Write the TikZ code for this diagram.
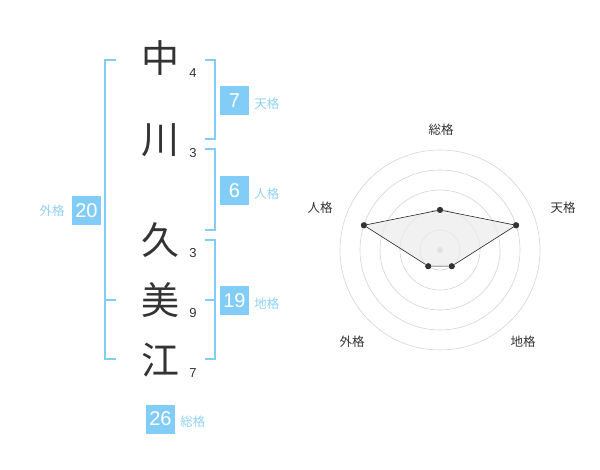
\documentclass[tikz,border=0pt]{standalone}
\usepackage{fontspec}
\setmainfont{Liberation Sans}
\newfontfamily\jpfont{Noto Sans CJK JP}
\usetikzlibrary{positioning}
\definecolor{frameblue}{HTML}{82CDF8}
\definecolor{labelblue}{HTML}{8ED2F7}
\definecolor{inkgrey}{HTML}{333333}

\tikzset{
    kanji/.style={font=\jpfont\fontsize{38}{38}\selectfont, text=inkgrey, inner sep=0pt},
    strokes/.style={font=\fontsize{13}{13}\selectfont, text=inkgrey, inner sep=0pt},
    scorebox/.style={fill=frameblue, text=white, minimum size=29pt, inner sep=0pt, font=\fontsize{20}{20}\selectfont},
    scorelabel/.style={font=\jpfont\fontsize{12.5}{12.5}\selectfont, text=labelblue, inner sep=0pt},
    bracket/.style={draw=frameblue, line width=1.5pt},
    ring/.style={draw=black!17, line width=0.6pt},
    axislabel/.style={font=\jpfont\fontsize{12.5}{12.5}\selectfont, text=inkgrey, inner sep=0pt},
    dot/.style={circle, fill=inkgrey, inner sep=0pt, minimum size=6pt},
}

\begin{document}
\begin{tikzpicture}[x=1pt, y=-1pt]
    \useasboundingbox (0,0) rectangle (600,470);

    \node[kanji] (k1) at (160,58) {中};
    \node[kanji] (k2) at (160,140) {川};
    \node[kanji] (k3) at (160,240) {久};
    \node[kanji] (k4) at (160,300) {美};
    \node[kanji] (k5) at (160,360) {江};
    \node[strokes] (s1) at (193,73) {4};
    \node[strokes] (s2) at (193,153) {3};
    \node[strokes] (s3) at (193,253) {3};
    \node[strokes] (s4) at (193,313) {9};
    \node[strokes] (s5) at (193,373) {7};

    \draw[bracket] (205,60) -- (215,60) -- (215,139) -- (205,139);
    \draw[bracket] (205,149) -- (215,149) -- (215,230) -- (205,230);
    \draw[bracket] (205,240) -- (215,240) -- (215,359) -- (205,359);
    \draw[bracket] (205,300) -- (215,300);
    \draw[bracket] (116,60) -- (105,60) -- (105,359) -- (116,359);
    \draw[bracket] (105,300) -- (116,300);

    \node[scorebox] (ten) at (234.5,100.5) {7};
    \node[scorelabel, right=5pt of ten, yshift=-3pt] (tenl) {天格};
    \node[scorebox] (jin) at (234.5,190.5) {6};
    \node[scorelabel, right=5pt of jin, yshift=-3pt] (jinl) {人格};
    \node[scorebox] (chi) at (234.5,300.5) {19};
    \node[scorelabel, right=5pt of chi, yshift=-3pt] (chil) {地格};
    \node[scorebox] (gai) at (86.5,210.5) {20};
    \node[scorelabel, left=7pt of gai] (gail) {外格};
    \node[scorebox] (sou) at (160.5,419) {26};
    \node[scorelabel, right=5pt of sou, yshift=-3pt] (soul) {総格};

    \begin{scope}[shift={(440,250)}]
        \foreach \r in {20,40,60,80,100}
            \draw[ring] (0,0) circle[radius=\r pt];
        \fill[black!20] (0,0) circle[radius=3pt];
        \node[dot] (p1) at (90:40pt) {};
        \node[dot] (p2) at (18:80pt) {};
        \node[dot] (p3) at (-54:20pt) {};
        \node[dot] (p4) at (-126:20pt) {};
        \node[dot] (p5) at (162:80pt) {};
        \fill[black!8, opacity=0.7] (p1.center) -- (p2.center) -- (p3.center) -- (p4.center) -- (p5.center) -- cycle;
        \draw[black!85, line width=0.6pt] (p1) -- (p2) -- (p3) -- (p4) -- (p5) -- (p1);
        \foreach \p in {p1,p2,p3,p4,p5}
            \node[dot] at (\p) {};
        \node[axislabel] (a1) at (1,-120) {総格};
        \node[axislabel] (a2) at (123,-42) {天格};
        \node[axislabel] (a3) at (83,92) {地格};
        \node[axislabel] (a4) at (-88,92) {外格};
        \node[axislabel] (a5) at (-120,-42) {人格};
    \end{scope}
\end{tikzpicture}
\end{document}
